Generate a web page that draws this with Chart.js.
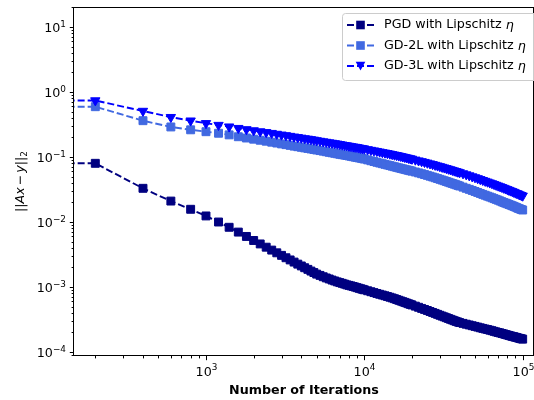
<!DOCTYPE html>
<html lang="en">
<head>
    <meta charset="UTF-8">
    <title>Residual vs iterations</title>
    <script src="https://cdn.jsdelivr.net/npm/chart.js@4.4.1/dist/chart.umd.min.js"></script>
    <style>
        body {
            margin: 0;
            background: #ffffff;
        }
        .chart-container {
            position: relative;
            width: 534px;
            height: 400px;
        }
    </style>
</head>
<body>
    <div class="chart-container">
        <canvas id="residualChart"></canvas>
    </div>

    <script>
        // iteration counts (first entry sits left of the visible axis, the line runs flat into the frame)
        const iterations = [100,
            200, 400, 600, 800, 1000, 1200, 1400, 1600, 1800, 2000, 2200, 2400, 2600, 2800, 3000, 3200, 3400, 3600, 3800, 4000, 4200, 4400, 4600, 4800, 5000,
            5250, 5500, 5750, 6000, 6250, 6500, 6750, 7000, 7250, 7500, 7750, 8000, 8250, 8500, 8750, 9000, 9250, 9500, 9750, 10000,
            10500, 11000, 11500, 12000, 12500, 13000, 13500, 14000, 14500, 15000, 15500, 16000, 16500, 17000, 17500, 18000, 18500, 19000, 19500, 20000,
            21000, 22000, 23000, 24000, 25000, 26000, 27000, 28000, 29000, 30000, 31000, 32000, 33000, 34000, 35000, 36000, 37000, 38000, 39000, 40000,
            42000, 44000, 46000, 48000, 50000, 52000, 54000, 56000, 58000, 60000, 62000, 64000, 66000, 68000, 70000,
            72000, 74000, 76000, 78000, 80000, 82000, 84000, 86000, 88000, 90000, 92000, 94000, 96000, 98000, 100000];

        const pgdResidual = [0.080,
            0.080, 0.033, 0.021, 0.0157, 0.0124, 0.0100, 0.0083, 0.0070, 0.0060, 0.0052, 0.0046, 0.0041, 0.0037, 0.00336, 0.00307, 0.00282, 0.00261, 0.00242, 0.00225, 0.00211, 0.00198, 0.00187, 0.00176, 0.00167, 0.00158,
            0.00151, 0.00144, 0.00138, 0.00133, 0.00128, 0.00124, 0.00120, 0.00117, 0.00114, 0.00111, 0.00108, 0.00106, 0.00104, 0.00102, 0.000998, 0.000977, 0.000958, 0.00094, 0.000922, 0.000906,
            0.000876, 0.000847, 0.000821, 0.000796, 0.000774, 0.000753, 0.000734, 0.000715, 0.000697, 0.000679, 0.000661, 0.000643, 0.000626, 0.00061, 0.000595, 0.000581, 0.000567, 0.000553, 0.000541, 0.00053,
            0.000508, 0.000488, 0.000469, 0.000452, 0.000436, 0.00042, 0.000406, 0.000393, 0.00038, 0.000368, 0.000357, 0.000347, 0.000337, 0.000328, 0.000319, 0.000311, 0.000303, 0.000296, 0.00029, 0.000284,
            0.000276, 0.000268, 0.000261, 0.000254, 0.000248, 0.000242, 0.000236, 0.000231, 0.000226, 0.000222, 0.000217, 0.000213, 0.000208, 0.000204, 0.0002,
            0.000197, 0.000193, 0.00019, 0.000186, 0.000183, 0.00018, 0.000177, 0.000174, 0.000172, 0.000169, 0.000167, 0.000164, 0.000162, 0.00016, 0.000158];

        const gd2Residual = [0.594,
            0.594, 0.362, 0.290, 0.262, 0.245, 0.232, 0.219, 0.205, 0.196, 0.188, 0.181, 0.175, 0.169, 0.164, 0.159, 0.155, 0.151, 0.147, 0.144, 0.141, 0.138, 0.1355, 0.133, 0.1305, 0.128,
            0.1255, 0.123, 0.1205, 0.118, 0.116, 0.114, 0.112, 0.110, 0.1085, 0.107, 0.1055, 0.104, 0.1025, 0.101, 0.0995, 0.098, 0.097, 0.096, 0.0945, 0.093,
            0.0903, 0.0876, 0.0852, 0.0829, 0.0808, 0.0789, 0.0771, 0.0754, 0.0738, 0.0722, 0.0708, 0.0694, 0.0681, 0.0669, 0.0657, 0.0646, 0.0635, 0.0625, 0.0615, 0.0606,
            0.0588, 0.0570, 0.0553, 0.0537, 0.0522, 0.0507, 0.0493, 0.0479, 0.0466, 0.0454, 0.0442, 0.0431, 0.0420, 0.0410, 0.0400, 0.0391, 0.0382, 0.0374, 0.0366, 0.0358,
            0.0344, 0.0330, 0.0318, 0.0306, 0.0295, 0.0285, 0.0275, 0.0266, 0.0258, 0.0250, 0.0243, 0.0236, 0.0229, 0.0223, 0.0217,
            0.0211, 0.0205, 0.0200, 0.0195, 0.0191, 0.0186, 0.0182, 0.0178, 0.0174, 0.0170, 0.0166, 0.0162, 0.0159, 0.0156, 0.0153];

        const gd3Residual = [0.74,
            0.74, 0.51, 0.41, 0.362, 0.330, 0.310, 0.293, 0.278, 0.266, 0.256, 0.247, 0.240, 0.233, 0.226, 0.220, 0.215, 0.210, 0.205, 0.201, 0.197, 0.193, 0.190, 0.187, 0.1835, 0.180,
            0.1765, 0.173, 0.170, 0.167, 0.1645, 0.162, 0.1595, 0.157, 0.1545, 0.152, 0.150, 0.148, 0.146, 0.144, 0.1425, 0.141, 0.139, 0.137, 0.1355, 0.134,
            0.131, 0.128, 0.1255, 0.123, 0.1205, 0.118, 0.116, 0.114, 0.112, 0.110, 0.108, 0.1065, 0.1047, 0.1030, 0.1012, 0.0995, 0.0979, 0.0963, 0.0948, 0.0934,
            0.0906, 0.0880, 0.0857, 0.0834, 0.0813, 0.0792, 0.0772, 0.0753, 0.0735, 0.0718, 0.0701, 0.0685, 0.0670, 0.0655, 0.0641, 0.0628, 0.0615, 0.0603, 0.0591, 0.0580,
            0.0558, 0.0538, 0.0519, 0.0501, 0.0485, 0.0469, 0.0454, 0.0440, 0.0427, 0.0415, 0.0403, 0.0392, 0.0381, 0.0371, 0.0361,
            0.0352, 0.0343, 0.0334, 0.0326, 0.0318, 0.0310, 0.0303, 0.0296, 0.0289, 0.0282, 0.0276, 0.0270, 0.0264, 0.0258, 0.0253];

        const seriesNames = ['PGD with Lipschitz ', 'GD-2L with Lipschitz ', 'GD-3L with Lipschitz '];
        const xMajorTicks = [1e3, 1e4, 1e5];
        const yMajorTicks = [1e-4, 1e-3, 1e-2, 1e-1, 1e0, 1e1];

        const FONT = 'DejaVu Sans';
        const FS = 12.7;

        function font(size, style) {
            return (style ? style + ' ' : '') + size + 'px "' + FONT + '"';
        }

        // "10" with a raised exponent, mathtext style
        function drawPow(ctx, value, x, baseY, align) {
            const exp = Math.round(Math.log10(value));
            const sup = (exp < 0 ? '\u2212' : '') + Math.abs(exp);
            ctx.font = font(FS);
            const wb = ctx.measureText('10').width;
            ctx.font = font(FS * 0.7);
            const ws = ctx.measureText(sup).width;
            const x0 = align === 'center' ? x - (wb + ws) / 2 : x - (wb + ws);
            ctx.textAlign = 'left';
            ctx.textBaseline = 'alphabetic';
            ctx.font = font(FS);
            ctx.fillText('10', x0, baseY);
            ctx.font = font(FS * 0.7);
            ctx.fillText(sup, x0 + wb, baseY - 5.8);
        }

        // 1..9 x 10^n ticks inside the range, majors taken from the tick lists
        function logTicks(min, max, majors) {
            const ticks = [];
            for (let e = Math.floor(Math.log10(min)); e <= Math.ceil(Math.log10(max)); e++) {
                for (let m = 1; m <= 9; m++) {
                    const v = m * Math.pow(10, e);
                    if (v >= min && v <= max) {
                        const major = m === 1 && majors.some(t => Math.abs(Math.log10(t) - e) < 1e-9);
                        ticks.push({ value: v, major: major });
                    }
                }
            }
            return ticks;
        }

        function toPoints(ys) {
            return iterations.map((x, i) => ({ x: x, y: ys[i] }));
        }

        const styles = [
            { color: '#000080', pointStyle: 'rect', radius: 5.6, rotation: 0 },
            { color: '#4169E1', pointStyle: 'rect', radius: 5.6, rotation: 0 },
            { color: '#0000FF', pointStyle: 'triangle', radius: 5.4, rotation: 180 }
        ];
        const seriesData = [pgdResidual, gd2Residual, gd3Residual];

        const datasets = seriesData.map((ys, i) => ({
            label: seriesNames[i] + '\u03B7',
            data: toPoints(ys),
            borderColor: styles[i].color,
            backgroundColor: styles[i].color,
            borderWidth: 1.9,
            borderDash: [7, 3],
            pointStyle: styles[i].pointStyle,
            pointRotation: styles[i].rotation,
            pointRadius: styles[i].radius,
            pointBorderWidth: 1,
            pointBorderColor: styles[i].color,
            pointBackgroundColor: styles[i].color,
            tension: 0,
            order: 3 - i
        }));

        // frame, ticks, tick labels, y title and a matplotlib style legend
        const framePlugin = {
            id: 'frame',
            afterDraw(chart) {
                const ctx = chart.ctx;
                const a = chart.chartArea;
                ctx.save();
                ctx.strokeStyle = '#000';
                ctx.fillStyle = '#000';
                ctx.lineWidth = 1;
                ['x', 'y'].forEach(id => {
                    const s = chart.scales[id];
                    s.ticks.forEach(t => {
                        const len = t.major ? 4.2 : 2.4;
                        const p = Math.round(s.getPixelForValue(t.value)) + 0.5;
                        ctx.beginPath();
                        if (id === 'x') {
                            ctx.moveTo(p, a.bottom);
                            ctx.lineTo(p, a.bottom + len);
                        } else {
                            ctx.moveTo(a.left, p);
                            ctx.lineTo(a.left - len, p);
                        }
                        ctx.stroke();
                        if (t.major) {
                            if (id === 'x') drawPow(ctx, t.value, p, a.bottom + 20, 'center');
                            else drawPow(ctx, t.value, a.left - 8, p + 4.8, 'right');
                        }
                    });
                });
                ctx.strokeRect(Math.round(a.left) - 0.5, Math.round(a.top) + 0.5, Math.round(a.right - a.left), Math.round(a.bottom - a.top) - 1);

                // y axis title ||Ax - y||_2 with italic symbols
                const parts = [
                    { t: '||', f: font(FS), dy: 0, gap: 0 },
                    { t: 'Ax', f: font(FS, 'italic'), dy: 0, gap: 0 },
                    { t: '\u2212', f: font(FS), dy: 0, gap: FS * 0.15 },
                    { t: 'y', f: font(FS, 'italic'), dy: 0, gap: 0 },
                    { t: '||', f: font(FS), dy: 0, gap: 0 },
                    { t: '2', f: font(FS * 0.7), dy: 2.6, gap: 0 }
                ];
                let total = 0;
                parts.forEach(p => {
                    ctx.font = p.f;
                    p.w = ctx.measureText(p.t).width;
                    total += p.w + 2 * p.gap;
                });
                ctx.save();
                ctx.translate(24, (a.top + a.bottom) / 2);
                ctx.rotate(-Math.PI / 2);
                ctx.textAlign = 'left';
                ctx.textBaseline = 'alphabetic';
                let cx = -total / 2;
                parts.forEach(p => {
                    ctx.font = p.f;
                    cx += p.gap;
                    ctx.fillText(p.t, cx, p.dy);
                    cx += p.w + p.gap;
                });
                ctx.restore();

                // legend
                const lx = 342.5, ly = 13.5, lw = 200, lh = 67;
                ctx.fillStyle = 'rgba(255,255,255,0.8)';
                ctx.strokeStyle = '#cccccc';
                ctx.lineWidth = 1;
                ctx.beginPath();
                ctx.roundRect(lx, ly, lw, lh, 3);
                ctx.fill();
                ctx.stroke();
                const rows = [25, 45.5, 66];
                datasets.forEach((d, i) => {
                    const y = rows[i];
                    ctx.strokeStyle = d.borderColor;
                    ctx.lineWidth = 1.9;
                    ctx.setLineDash(d.borderDash);
                    ctx.beginPath();
                    ctx.moveTo(347, y);
                    ctx.lineTo(374, y);
                    ctx.stroke();
                    ctx.setLineDash([]);
                    ctx.fillStyle = d.borderColor;
                    const mx = 360.5;
                    if (styles[i].pointStyle === 'rect') {
                        ctx.fillRect(mx - 4.3, y - 4.3, 8.6, 8.6);
                    } else {
                        ctx.beginPath();
                        ctx.moveTo(mx - 4.8, y - 4.2);
                        ctx.lineTo(mx + 4.8, y - 4.2);
                        ctx.lineTo(mx, y + 4.6);
                        ctx.closePath();
                        ctx.fill();
                    }
                    ctx.fillStyle = '#000';
                    ctx.textBaseline = 'middle';
                    ctx.textAlign = 'left';
                    ctx.font = font(FS);
                    ctx.fillText(seriesNames[i], 384, y);
                    const w = ctx.measureText(seriesNames[i]).width;
                    ctx.font = font(FS, 'italic');
                    ctx.fillText('\u03B7', 384 + w, y + 1);
                });
                ctx.restore();
            }
        };

        Chart.defaults.font.family = FONT;
        Chart.defaults.font.size = FS;
        Chart.defaults.color = '#000';

        const ctx = document.getElementById('residualChart').getContext('2d');
        new Chart(ctx, {
            type: 'line',
            data: { datasets: datasets },
            plugins: [framePlugin],
            options: {
                responsive: true,
                maintainAspectRatio: false,
                animation: false,
                layout: { autoPadding: false, padding: { top: 7, right: 0, left: 0, bottom: 0 } },
                plugins: {
                    legend: { display: false },
                    tooltip: { enabled: false }
                },
                scales: {
                    x: {
                        type: 'logarithmic',
                        min: 146.7,
                        max: 117900,
                        afterBuildTicks: s => { s.ticks = logTicks(s.min, s.max, xMajorTicks); },
                        afterFit: s => { s.height = 44; s.paddingLeft = 0; s.paddingRight = 0; },
                        grid: { display: false },
                        border: { display: false },
                        ticks: { display: false, autoSkip: false, maxRotation: 0 },
                        title: {
                            display: true,
                            text: 'Number of Iterations',
                            font: { weight: 'bold', size: FS },
                            padding: { top: 0, bottom: 1.5 }
                        }
                    },
                    y: {
                        type: 'logarithmic',
                        min: 8.69e-5,
                        max: 20.3,
                        afterBuildTicks: s => { s.ticks = logTicks(s.min, s.max, yMajorTicks); },
                        afterFit: s => { s.width = 74; s.paddingTop = 0; s.paddingBottom = 0; },
                        grid: { display: false },
                        border: { display: false },
                        ticks: { display: false, autoSkip: false }
                    }
                }
            }
        });
    </script>
</body>
</html>
